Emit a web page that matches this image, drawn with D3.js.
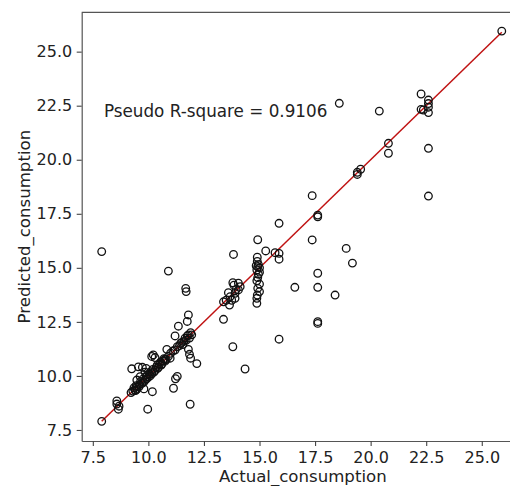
<!DOCTYPE html>
<html>
<head>
<meta charset="utf-8">
<script src="https://cdn.jsdelivr.net/npm/d3@7"></script>
<style>
    body { margin: 0; background: #fff; }
    text { font-family: "DejaVu Sans", sans-serif; fill: #222; }
</style>
</head>
<body>
<div id="chart"></div>
<script>
const actual = [
    7.9, 7.9, 8.58, 8.58, 8.65, 8.68, 9.97, 10.18, 9.8, 9.25,
    9.55, 9.73, 9.9, 9.85, 9.48, 9.63, 9.22, 9.48, 10.15, 10.22,
    10.3, 10.83, 10.98, 10.75, 11.2, 11.35, 11.75, 11.8, 11.68, 11.7,
    10.9, 11.8, 11.85, 11.9, 12.18, 11.3, 11.22, 11.13, 11.88,
    9.3, 9.35, 9.4, 9.45, 9.5, 9.6, 9.65, 9.7, 9.75, 9.85,
    9.9, 9.95, 10.0, 10.05, 10.1, 10.15, 10.2, 10.3, 10.35, 10.4,
    10.45, 10.5, 10.55, 10.6, 10.65, 10.7, 10.8, 10.9, 11.0, 11.1,
    11.2, 11.3, 11.4, 11.5, 11.55, 11.6, 11.65, 11.7, 11.75, 11.8,
    11.85, 11.9, 11.95,
    9.42, 9.58, 9.78, 9.92, 10.08, 10.25, 10.42, 10.58, 10.75, 11.45,
    13.38, 13.8, 14.35, 13.83, 13.38, 13.65, 13.68, 13.75, 13.9, 13.6,
    13.9, 14.05, 13.8, 13.85, 14.05, 14.13, 13.5, 13.95,
    14.92, 14.9, 14.9, 14.95, 14.92, 14.88, 15.0, 14.95, 14.92, 14.88,
    15.0, 14.92, 15.0, 14.9, 14.88, 14.88, 15.0, 14.85,
    15.28, 15.7, 15.88, 15.88, 15.88, 15.88, 16.59, 17.37, 17.62, 17.62,
    17.37, 17.62, 17.62, 18.4, 17.62, 17.62, 18.9, 19.18, 19.4, 19.55,
    19.4, 18.59, 20.39, 20.8, 20.8, 22.27, 22.6, 22.6, 22.6, 22.27,
    22.37, 22.6, 22.6, 22.6, 25.9
]
const predicted = [
    15.75, 7.9, 8.84, 8.7, 8.46, 8.6, 8.46, 9.27, 9.4, 10.33,
    10.42, 10.4, 10.35, 10.17, 9.81, 9.97, 9.23, 9.38, 10.9, 10.97,
    10.85, 11.23, 10.82, 10.77, 11.85, 12.3, 12.52, 12.82, 14.05, 13.9,
    14.85, 11.23, 11.0, 10.82, 10.57, 9.98, 9.87, 9.43, 8.69,
    9.3, 9.45, 9.35, 9.55, 9.5, 9.6, 9.75, 9.65, 9.85, 9.8,
    9.95, 10.05, 9.95, 10.1, 10.2, 10.1, 10.3, 10.25, 10.4, 10.5,
    10.4, 10.55, 10.65, 10.55, 10.7, 10.8, 10.75, 10.9, 11.05, 11.15,
    11.2, 11.35, 11.4, 11.55, 11.45, 11.6, 11.75, 11.65, 11.85, 11.9,
    11.75, 12.0, 11.9,
    9.32, 9.5, 9.7, 9.86, 10.0, 10.18, 10.35, 10.5, 10.68, 11.5,
    12.62, 11.35, 10.32, 15.62, 13.43, 13.28, 13.67, 13.5, 13.59, 13.85,
    13.82, 13.98, 14.31, 14.2, 14.29, 14.13, 13.5, 14.0,
    16.3, 15.49, 15.3, 15.15, 15.05, 14.9, 14.8, 14.7, 14.55, 14.4,
    14.25, 14.05, 13.9, 13.74, 13.59, 13.36, 15.0, 15.1,
    15.78, 15.7, 15.67, 15.4, 17.06, 11.7, 14.1, 18.34, 17.44, 17.36,
    16.29, 14.75, 14.1, 13.74, 12.51, 12.43, 15.9, 15.22, 19.42, 19.56,
    19.32, 22.61, 22.25, 20.76, 20.3, 23.04, 22.76, 22.6, 22.43, 22.33,
    22.3, 22.18, 20.53, 18.32, 25.95
]
const tickValues = [7.5, 10.0, 12.5, 15.0, 17.5, 20.0, 22.5, 25.0]
const rSquare = 0.9106

const width = 510
const height = 486
const margin = { left: 81.7, top: 12.3, right: -14, bottom: 45 }

const x = d3.scaleLinear()
    .domain([7.0, 26.9])
    .range([margin.left, width - margin.right])

const y = d3.scaleLinear()
    .domain([6.99, 26.82])
    .range([height - margin.bottom, margin.top])

const points = actual.map((d, i) => ({ a: d, p: predicted[i] }))

const svg = d3.select('#chart').append('svg')
    .attr('width', width)
    .attr('height', height)

// axes
svg.append('g')
    .attr('transform', 'translate(0,' + (height - margin.bottom) + ')')
    .call(d3.axisBottom(x).tickValues(tickValues).tickFormat(d3.format('.1f'))
        .tickSize(5).tickPadding(6).tickSizeOuter(0))
svg.append('g')
    .attr('transform', 'translate(' + margin.left + ',0)')
    .call(d3.axisLeft(y).tickValues(tickValues).tickFormat(d3.format('.1f'))
        .tickSize(5).tickPadding(4.5).tickSizeOuter(0))

svg.selectAll('.tick text').style('font-size', '16px').style('fill', '#222')
svg.selectAll('.tick line').attr('stroke', '#444').attr('stroke-width', 1.1)
svg.selectAll('.domain').attr('stroke', '#555').attr('stroke-width', 1.2)

// top spine
svg.append('line')
    .attr('x1', margin.left).attr('x2', width)
    .attr('y1', margin.top).attr('y2', margin.top)
    .attr('stroke', '#555').attr('stroke-width', 1.2)

// y = x reference line
const ext = d3.extent(actual)
svg.append('line')
    .attr('x1', x(ext[0])).attr('y1', y(ext[0]))
    .attr('x2', x(ext[1])).attr('y2', y(ext[1]))
    .attr('stroke', '#c01212')
    .attr('stroke-width', 1.5)

svg.append('g').selectAll('circle')
    .data(points)
    .enter().append('circle')
    .attr('cx', d => x(d.a))
    .attr('cy', d => y(d.p))
    .attr('r', 3.8)
    .attr('fill', 'none')
    .attr('stroke', '#111')
    .attr('stroke-width', 1.3)

svg.append('text')
    .attr('x', x(8.0))
    .attr('y', y(22.0))
    .style('font-size', '16.8px')
    .text('Pseudo R-square = ' + rSquare.toFixed(4))

svg.append('text')
    .attr('x', (margin.left + width - margin.right) / 2)
    .attr('y', 482)
    .attr('text-anchor', 'middle')
    .style('font-size', '16.6px')
    .text('Actual_consumption')

svg.append('text')
    .attr('transform', 'translate(30,' + (margin.top + height - margin.bottom) / 2 + ') rotate(-90)')
    .attr('text-anchor', 'middle')
    .style('font-size', '16.6px')
    .text('Predicted_consumption')
</script>
</body>
</html>
